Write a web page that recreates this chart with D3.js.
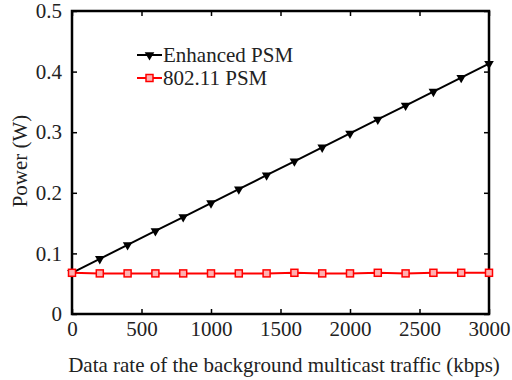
<!DOCTYPE html>
<html>
<head>
<meta charset="utf-8">
<script src="https://cdn.jsdelivr.net/npm/d3@7"></script>
</head>
<body style="margin:0; background:#fff">
<div id="chart"></div>
<script>
var rates = [0, 200, 400, 600, 800, 1000, 1200, 1400, 1600, 1800, 2000, 2200, 2400, 2600, 2800, 3000];
var enhancedPSM = [0.068, 0.091, 0.114, 0.137, 0.160, 0.183, 0.206, 0.229, 0.252, 0.275, 0.298, 0.321, 0.344, 0.367, 0.390, 0.413];
var legacyPSM = [0.068, 0.067, 0.067, 0.067, 0.067, 0.067, 0.067, 0.067, 0.068, 0.067, 0.067, 0.068, 0.067, 0.068, 0.068, 0.068];
var xTicks = [0, 500, 1000, 1500, 2000, 2500, 3000];
var yTicks = [0, 0.1, 0.2, 0.3, 0.4, 0.5];
var seriesNames = ["Enhanced PSM", "802.11 PSM"];

var serif = "'Liberation Serif'";

function init(){
    var w = 512;
    var h = 380;
    var left = 72, right = 489, top = 11, bottom = 314;

    var xScale = d3.scaleLinear().domain([0, 3000]).range([left, right]);
    var yScale = d3.scaleLinear().domain([0, 0.5]).range([bottom, top]);

    var svg = d3.select("#chart")
                .append("svg")
                .attr("width", w)
                .attr("height", h);

    var line = d3.line()
                .x(function(d) { return xScale(d[0]); })
                .y(function(d) { return yScale(d[1]); });

    var blackData = d3.zip(rates, enhancedPSM);
    var redData = d3.zip(rates, legacyPSM);

    //axes with inward ticks
    var xAxis = d3.axisBottom(xScale).tickValues(xTicks).tickSizeInner(-5).tickSizeOuter(0).tickPadding(7)
                .tickFormat(d3.format("d"));
    var xAxisTop = d3.axisTop(xScale).tickValues(xTicks).tickSizeInner(-5).tickSizeOuter(0).tickFormat("");
    var yAxis = d3.axisLeft(yScale).tickValues(yTicks).tickSizeInner(-5).tickSizeOuter(0).tickPadding(10)
                .tickFormat(function(d) { return d === 0 ? "0" : d3.format(".1f")(d); });
    var yAxisRight = d3.axisRight(yScale).tickValues(yTicks).tickSizeInner(-5).tickSizeOuter(0).tickFormat("");

    function styleAxis(g) {
        g.select(".domain").remove();
        g.selectAll(".tick line").attr("stroke", "#000").attr("stroke-width", 1.5);
        g.selectAll(".tick text")
            .style("font-family", serif)
            .attr("font-size", 21)
            .attr("fill", "#222");
    }

    svg.append("g").attr("transform", "translate(0," + bottom + ")").call(xAxis).call(styleAxis);
    svg.append("g").attr("transform", "translate(0," + top + ")").call(xAxisTop).call(styleAxis);
    svg.append("g").attr("transform", "translate(" + left + ",0)").call(yAxis).call(styleAxis);
    svg.append("g").attr("transform", "translate(" + right + ",0)").call(yAxisRight).call(styleAxis);

    //frame
    svg.append("rect")
        .attr("x", left).attr("y", top)
        .attr("width", right - left).attr("height", bottom - top)
        .attr("fill", "none").attr("stroke", "#000").attr("stroke-width", 2.5);

    //series lines
    svg.append("path").datum(blackData)
        .attr("d", line).attr("fill", "none").attr("stroke", "#000").attr("stroke-width", 2);
    svg.append("path").datum(redData)
        .attr("d", line).attr("fill", "none").attr("stroke", "#ff0000").attr("stroke-width", 2);

    var tri = d3.symbol().type(d3.symbolTriangle).size(40);
    svg.selectAll(".tri").data(blackData).enter().append("path")
        .attr("class", "tri")
        .attr("d", tri)
        .attr("transform", function(d) { return "translate(" + xScale(d[0]) + "," + yScale(d[1]) + ") rotate(180)"; })
        .attr("fill", "#000");

    svg.selectAll(".sq").data(redData).enter().append("rect")
        .attr("class", "sq")
        .attr("x", function(d) { return xScale(d[0]) - 3.5; })
        .attr("y", function(d) { return yScale(d[1]) - 3.5; })
        .attr("width", 7).attr("height", 7)
        .attr("fill", "#ffb0b0").attr("stroke", "#ff0000").attr("stroke-width", 1.5);

    //legend
    var legend = svg.append("g").attr("transform", "translate(137,55)");
    legend.append("line").attr("x1", 0).attr("x2", 25).attr("y1", 0).attr("y2", 0)
        .attr("stroke", "#000").attr("stroke-width", 2);
    legend.append("path").attr("d", tri).attr("transform", "translate(12.5,0) rotate(180)").attr("fill", "#000");
    legend.append("text").attr("x", 26).attr("y", 7).attr("font-size", 21)
        .style("font-family", serif).attr("fill", "#222").text(seriesNames[0]);

    legend.append("line").attr("x1", 0).attr("x2", 25).attr("y1", 23).attr("y2", 23)
        .attr("stroke", "#ff0000").attr("stroke-width", 2);
    legend.append("rect").attr("x", 9).attr("y", 19.5).attr("width", 7).attr("height", 7)
        .attr("fill", "#ffb0b0").attr("stroke", "#ff0000").attr("stroke-width", 1.5);
    legend.append("text").attr("x", 26).attr("y", 30).attr("font-size", 21)
        .style("font-family", serif).attr("fill", "#222").text(seriesNames[1]);

    //axis titles
    svg.append("text")
        .attr("x", 284).attr("y", 372)
        .attr("text-anchor", "middle").attr("font-size", 21)
        .style("font-family", serif).attr("fill", "#222")
        .text("Data rate of the background multicast traffic (kbps)");

    svg.append("text")
        .attr("transform", "translate(27,161) rotate(-90)")
        .attr("text-anchor", "middle").attr("font-size", 21)
        .style("font-family", serif).attr("fill", "#222")
        .text("Power (W)");
}
window.onload = init;
</script>
</body>
</html>
